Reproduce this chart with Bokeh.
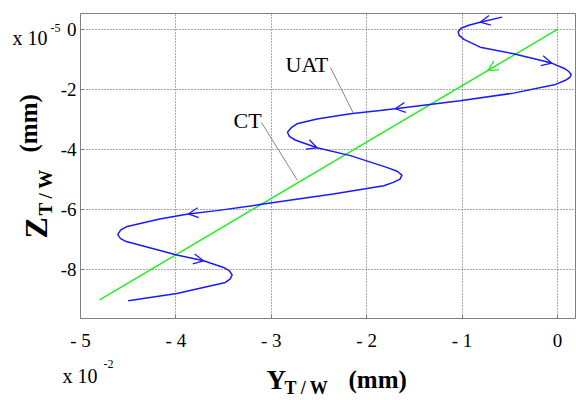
from bokeh.plotting import figure
from bokeh.models import Arrow, OpenHead, ColumnDataSource, Range1d, FixedTicker
from bokeh.core.properties import value
from bokeh.embed import file_html
from bokeh.resources import INLINE
import math

# Data (Y_T/W in units of 1e-2 mm, Z_T/W in units of 1e-5 mm)
ct_y = [0.0, -4.8]
ct_z = [0.0, -9.0]

uat_y = [-0.58, -0.81, -0.93, -1.01, -1.04, -1.03, -0.98, -0.81, -0.46, -0.06, 0.08,
         0.12, 0.145, 0.13, 0.08, -0.02, -0.46, -1.02, -1.70, -1.86, -2.17, -2.52,
         -2.73, -2.79, -2.83, -2.81, -2.75, -2.52, -2.17, -1.79, -1.68, -1.63, -1.65,
         -1.72, -1.82, -2.35, -3.12, -3.57, -3.87, -4.17, -4.52, -4.58, -4.61, -4.58,
         -4.52, -3.99, -3.71, -3.50, -3.44, -3.41, -3.43, -3.48, -3.99, -4.50]
uat_z = [0.41, 0.24, 0.14, 0.04, -0.08, -0.20, -0.33, -0.59, -0.81, -1.12, -1.31,
         -1.40, -1.50, -1.60, -1.70, -1.83, -2.12, -2.37, -2.64, -2.70, -2.81, -2.98,
         -3.14, -3.27, -3.42, -3.56, -3.68, -3.94, -4.20, -4.59, -4.72, -4.85, -4.98,
         -5.09, -5.20, -5.48, -5.83, -6.03, -6.14, -6.31, -6.57, -6.68, -6.83, -6.96,
         -7.06, -7.51, -7.70, -7.92, -8.03, -8.17, -8.30, -8.42, -8.79, -9.03]

# arrow heads (tail -> tip) along the curves
uat_arrow_y0 = [-0.60, -0.46, -1.30, -2.75, -3.50, -3.99]
uat_arrow_z0 = [0.37, -0.81, -2.47, -3.68, -6.00, -7.53]
uat_arrow_y1 = [-0.81, -0.06, -1.70, -2.52, -3.87, -3.71]
uat_arrow_z1 = [0.24, -1.12, -2.64, -3.94, -6.14, -7.70]
ct_arrow_y0 = [-0.40]
ct_arrow_z0 = [-0.75]
ct_arrow_y1 = [-0.73]
ct_arrow_z1 = [-1.37]

x_ticks = [-5, -4, -3, -2, -1, 0]
x_tick_labels = ["- 5", "- 4", "- 3", "- 2", "- 1", "0"]
y_ticks = [0, -2, -4, -6, -8]
y_tick_labels = ["0", "-2", "-4", "-6", "-8"]

FONT = "Liberation Serif"
BLUE = "#1a1aff"
GREEN = "#22ee22"

X0, X1 = -5.0, 0.19
Y0, Y1 = -9.62, 0.53
FL, FT, FW, FH = 80, 13, 495, 305   # frame box in page pixels

p = figure(width=576, height=400, x_range=Range1d(X0, X1), y_range=Range1d(Y0, Y1),
           output_backend="svg", toolbar_location=None,
           min_border_left=FL, min_border_top=FT, min_border_right=576 - FL - FW,
           min_border_bottom=400 - FT - FH)

p.outline_line_color = "#808080"
p.outline_line_width = 1
for ax in (p.xaxis, p.yaxis):
    ax.axis_line_color = None
    ax.major_tick_in = 4
    ax.major_tick_out = 0
    ax.major_tick_line_color = "#808080"
    ax.minor_tick_line_color = None
    ax.major_label_text_font = FONT
    ax.major_label_text_font_size = "19px"
    ax.major_label_text_color = "black"
p.xaxis.ticker = FixedTicker(ticks=x_ticks)
p.yaxis.ticker = FixedTicker(ticks=y_ticks)
p.xaxis.major_label_overrides = dict(zip(x_ticks, x_tick_labels))
p.yaxis.major_label_overrides = dict(zip(y_ticks, y_tick_labels))
p.xaxis.major_label_standoff = 11
p.yaxis.major_label_standoff = 4

for g in (p.xgrid, p.ygrid):
    g.grid_line_color = "#555555"
    g.grid_line_dash = "1 2"
    g.grid_line_width = 1
p.xgrid.ticker = FixedTicker(ticks=x_ticks)
p.ygrid.ticker = FixedTicker(ticks=y_ticks)

p.line(ct_y, ct_z, line_color=GREEN, line_width=1.5)
p.line(uat_y, uat_z, line_color=BLUE, line_width=1.5)

src_u = ColumnDataSource(dict(x0=uat_arrow_y0, y0=uat_arrow_z0, x1=uat_arrow_y1, y1=uat_arrow_z1))
p.add_layout(Arrow(x_start="x0", y_start="y0", x_end="x1", y_end="y1", source=src_u,
                   line_alpha=0,
                   end=OpenHead(size=10, line_color=BLUE, line_width=1.3)))
src_c = ColumnDataSource(dict(x0=ct_arrow_y0, y0=ct_arrow_z0, x1=ct_arrow_y1, y1=ct_arrow_z1))
p.add_layout(Arrow(x_start="x0", y_start="y0", x_end="x1", y_end="y1", source=src_c,
                   line_alpha=0,
                   end=OpenHead(size=10, line_color=GREEN, line_width=1.3)))

# pixel (page) -> data helpers for annotation placement
def px(xp):
    return X0 + (xp - FL) * (X1 - X0) / FW

def pz(yp):
    return Y1 - (yp - FT) * (Y1 - Y0) / FH

# leader lines
p.segment(x0=[px(330), px(261)], y0=[pz(67), pz(122)],
          x1=[px(353), px(297)], y1=[pz(113), pz(180)],
          line_color="#666666", line_width=0.8)

def lab(xp, yp, text, size, bold=False, angle=0.0):
    p.text(x=[px(xp)], y=[pz(yp)], text=[text], text_font=value(FONT),
           text_font_size=value(size), text_font_style=value("bold" if bold else "normal"),
           text_color="black", angle=angle, text_align=value("left"),
           text_baseline=value("alphabetic"), level="overlay")

lab(285, 64, "UAT", "22px")
lab(233, 120, "CT", "22px")

# x axis label
lab(266, 379, "Y", "27px", bold=True)
lab(284, 387, "T / W", "18px", bold=True)
lab(348, 379, "(mm)", "25px", bold=True)
# y axis label (rotated)
r = math.pi / 2
lab(35, 238, "Z", "32px", bold=True, angle=r)
lab(45, 215, "T / W", "19px", bold=True, angle=r)
lab(28, 152, "(mm)", "25px", bold=True, angle=r)

# multipliers
lab(62, 375, "x 10", "20px")
lab(103, 363, "-2", "12px")
lab(12, 37, "x 10", "20px")
lab(50, 27, "-5", "12px")

open("out.html", "w").write(file_html(p, INLINE))
